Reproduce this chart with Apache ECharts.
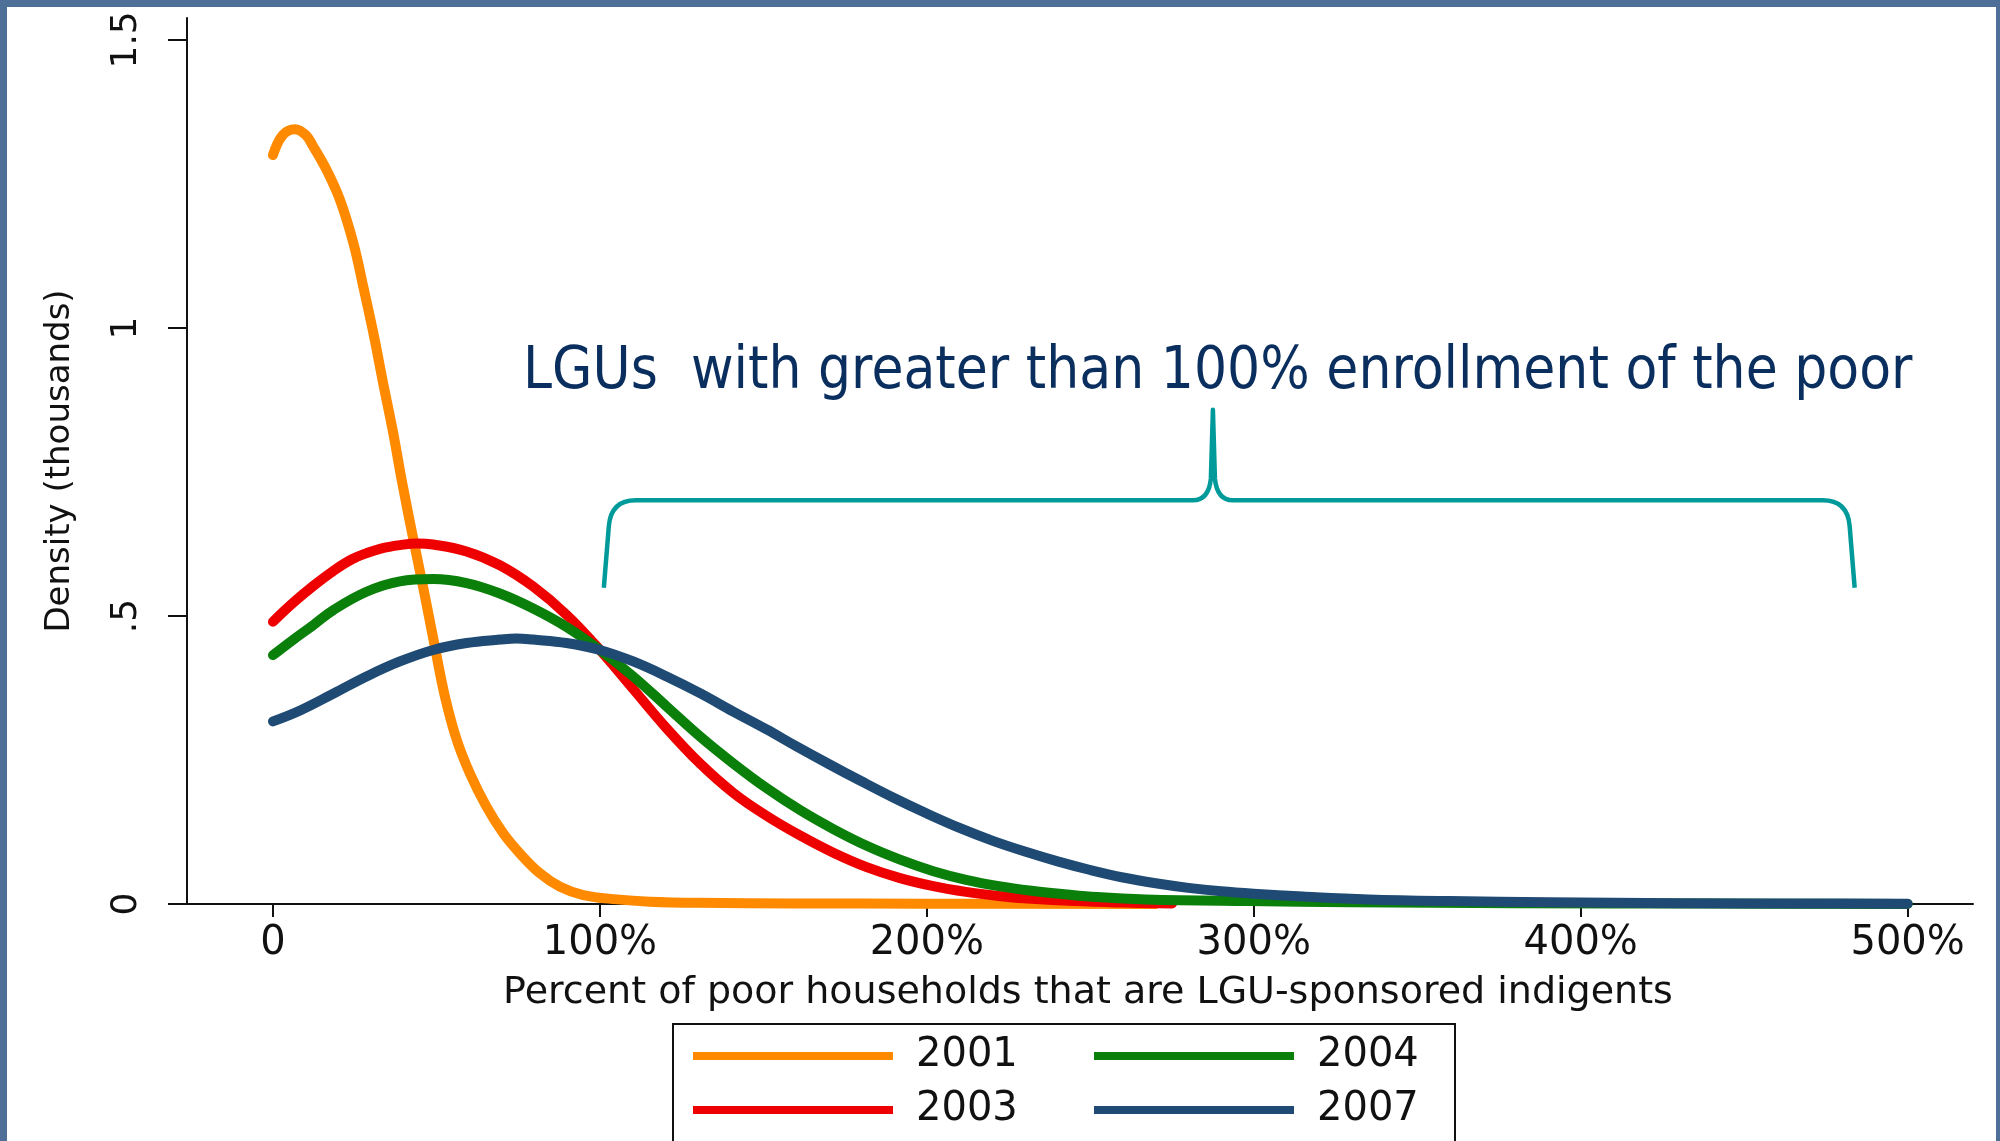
<!DOCTYPE html>
<html>
<head>
<meta charset="utf-8">
<script src="https://cdn.jsdelivr.net/npm/echarts@6/dist/echarts.min.js"></script>
<style>
  html, body { margin: 0; padding: 0; background: #4d6f98; }
  #main { width: 2000px; height: 1141px; }
</style>
</head>
<body>
<div id="main"></div>
<script>
// kernel density curves, x = percent of poor households, y = density (thousands)
var x2001 = [0, 3, 6.7, 10, 12.3, 16.4, 20.5, 24.6, 27.6, 30.7, 33.7, 36.8, 39.4, 43.4, 46.5, 49.5, 52.6, 56.2, 60.2, 65.3, 70.4, 75.5, 81.7, 87.8, 94.9, 105.1, 115.3, 130, 160, 200, 270];
var y2001 = [1.30, 1.335, 1.345, 1.335, 1.315, 1.274, 1.222, 1.147, 1.072, 0.991, 0.904, 0.817, 0.735, 0.62, 0.534, 0.447, 0.36, 0.285, 0.227, 0.169, 0.123, 0.088, 0.053, 0.03, 0.0156, 0.008, 0.004, 0.002, 0.001, 0.0005, 0];

var x2003 = [0, 6, 12.3, 18.4, 24, 28.6, 33, 38.8, 44, 49, 59.2, 69.4, 79.6, 89.8, 100, 110.2, 120.4, 130.6, 140.8, 151, 161.2, 171.4, 181.6, 191.8, 202, 212, 222, 232, 245, 260, 275];
var y2003 = [0.49, 0.522, 0.552, 0.578, 0.598, 0.609, 0.617, 0.623, 0.626, 0.624, 0.612, 0.588, 0.551, 0.502, 0.441, 0.373, 0.305, 0.244, 0.193, 0.153, 0.119, 0.089, 0.064, 0.045, 0.031, 0.021, 0.014, 0.009, 0.005, 0.0025, 0.001];

var x2004 = [0, 6, 12.3, 18.4, 28.6, 38.8, 49, 59.2, 69.4, 79.6, 89.8, 100, 110.2, 120.4, 130.6, 140.8, 151, 161.2, 171.4, 181.6, 191.8, 202, 212, 222, 232, 242, 252, 267, 298, 330, 380, 440, 500];
var y2004 = [0.432, 0.458, 0.484, 0.51, 0.542, 0.56, 0.564, 0.557, 0.539, 0.513, 0.481, 0.441, 0.395, 0.343, 0.291, 0.244, 0.201, 0.163, 0.130, 0.101, 0.077, 0.057, 0.042, 0.031, 0.023, 0.017, 0.012, 0.008, 0.005, 0.003, 0.0015, 0.0007, 0.0002];

var x2007 = [0, 8.3, 18.4, 28.6, 38.8, 49, 59.2, 69.4, 74.5, 79.6, 89.8, 100, 110.2, 120.4, 130.6, 140.8, 151, 160, 170, 180, 190, 200, 210, 220, 230, 240, 250, 260, 270, 280, 290, 300, 315, 335, 360, 390, 430, 470, 500];
var y2007 = [0.317, 0.336, 0.365, 0.395, 0.421, 0.441, 0.453, 0.459, 0.461, 0.459, 0.453, 0.441, 0.421, 0.395, 0.366, 0.334, 0.303, 0.274, 0.243, 0.213, 0.184, 0.157, 0.132, 0.110, 0.091, 0.074, 0.059, 0.046, 0.036, 0.028, 0.022, 0.0178, 0.013, 0.008, 0.005, 0.003, 0.0015, 0.0008, 0.0004];

var xTicks = [0, 100, 200, 300, 400, 500];
var yTicks = [0, 0.5, 1, 1.5];

// annotation: brace x = [left, middle, right], y = [ends, bar, peak]
var braceX = [101.2, 287.5, 483.8];
var braceY = [0.549, 0.701, 0.858];
var noteText = 'LGUs  with greater than 100% enrollment of the poor';
var noteX = [76.5, 501.5];
var noteY = 0.922;

var FONT = 'DejaVu Sans';
var colors = { '2001': '#ff8a00', '2003': '#ee0000', '2004': '#0a7f0a', '2007': '#1f4a73' };

function pairs(xs, ys) {
  return xs.map(function (x, i) { return [x, ys[i]]; });
}

function lineSeries(name, xs, ys) {
  return {
    name: name,
    type: 'line',
    data: pairs(xs, ys),
    symbol: 'none',
    smooth: 0.4,
    itemStyle: { color: colors[name] },
    lineStyle: { color: colors[name], width: 10, cap: 'round', join: 'round' }
  };
}

var measureCtx = document.createElement('canvas').getContext('2d');

var chart = echarts.init(document.getElementById('main'));
chart.setOption({
  backgroundColor: '#4d6f98',
  animation: false,
  graphic: {
    elements: [
      { type: 'rect', z: -100, shape: { x: 7, y: 7, width: 1989, height: 1140 }, style: { fill: '#ffffff' } },
      { type: 'rect', z: 1, shape: { x: 673, y: 1024, width: 782, height: 150 }, style: { fill: 'none', stroke: '#111', lineWidth: 2 } }
    ]
  },
  grid: { left: 187, right: 27, top: 18, bottom: 237 },
  xAxis: {
    type: 'value',
    min: -26.3,
    max: 520,
    axisLine: { onZero: false, lineStyle: { color: '#111', width: 2 } },
    axisTick: { customValues: xTicks, length: 13, lineStyle: { color: '#111', width: 2 } },
    axisLabel: {
      customValues: xTicks,
      margin: 20,
      fontFamily: FONT,
      fontSize: 40,
      color: '#111',
      formatter: function (v) { return v === 0 ? '0' : v + '%'; }
    },
    splitLine: { show: false },
    name: 'Percent of poor households that are LGU-sponsored indigents',
    nameLocation: 'middle',
    nameGap: 70,
    nameTextStyle: { fontFamily: FONT, fontSize: 38, color: '#111', padding: [0, 0, 0, 16] }
  },
  yAxis: {
    type: 'value',
    min: 0,
    max: 1.538,
    axisLine: { show: true, onZero: false, lineStyle: { color: '#111', width: 2 } },
    axisTick: { show: true, customValues: yTicks, length: 19, lineStyle: { color: '#111', width: 2 } },
    axisLabel: {
      customValues: yTicks,
      rotate: 90,
      margin: 42,
      fontFamily: FONT,
      fontSize: 36,
      color: '#111',
      formatter: function (v) { return String(v).replace(/^0\./, '.'); }
    },
    splitLine: { show: false },
    name: 'Density (thousands)',
    nameLocation: 'middle',
    nameGap: 110,
    nameTextStyle: { fontFamily: FONT, fontSize: 34, color: '#111' }
  },
  legend: [
    {
      data: ['2001', '2003'], orient: 'vertical', left: 693, top: 1036, padding: 0,
      itemWidth: 200, itemHeight: 8, itemGap: 14, icon: 'rect', selectedMode: false,
      textStyle: { fontFamily: FONT, fontSize: 40, lineHeight: 40, color: '#111', padding: [0, 0, 0, 18] }
    },
    {
      data: ['2004', '2007'], orient: 'vertical', left: 1094, top: 1036, padding: 0,
      itemWidth: 200, itemHeight: 8, itemGap: 14, icon: 'rect', selectedMode: false,
      textStyle: { fontFamily: FONT, fontSize: 40, lineHeight: 40, color: '#111', padding: [0, 0, 0, 18] }
    }
  ],
  series: [
    lineSeries('2001', x2001, y2001),
    lineSeries('2003', x2003, y2003),
    lineSeries('2004', x2004, y2004),
    lineSeries('2007', x2007, y2007),
    {
      type: 'custom',
      coordinateSystem: 'cartesian2d',
      silent: true,
      z: 5,
      data: [[0, 0]],
      renderItem: function (params, api) {
        var L = api.coord([braceX[0], braceY[0]]);
        var M = api.coord([braceX[1], braceY[2]]);
        var R = api.coord([braceX[2], braceY[0]]);
        var yh = api.coord([braceX[0], braceY[1]])[1];
        var r = 26;
        var d = [
          'M', L[0], L[1],
          'L', L[0] + 5, yh + r,
          'Q', L[0] + 7, yh, L[0] + 6 + r, yh,
          'L', M[0] - 20, yh,
          'Q', M[0] - 4, yh, M[0] - 2, yh - 22,
          'L', M[0], M[1],
          'L', M[0] + 2, yh - 22,
          'Q', M[0] + 4, yh, M[0] + 20, yh,
          'L', R[0] - 6 - r, yh,
          'Q', R[0] - 7, yh, R[0] - 5, yh + r,
          'L', R[0], R[1]
        ].join(' ');

        var n0 = api.coord([noteX[0], noteY]);
        var n1 = api.coord([noteX[1], noteY]);
        measureCtx.font = '58px "' + FONT + '"';
        var sx = (n1[0] - n0[0]) / measureCtx.measureText(noteText).width;

        return {
          type: 'group',
          children: [
            {
              type: 'path',
              shape: { pathData: d },
              style: { fill: 'none', stroke: '#009a9a', lineWidth: 4.5, lineJoin: 'round' }
            },
            {
              type: 'text',
              x: n0[0],
              y: n0[1],
              scaleX: sx,
              style: {
                text: noteText,
                fill: '#0a2f5f',
                fontFamily: FONT,
                fontSize: 58,
                align: 'left',
                verticalAlign: 'middle'
              }
            }
          ]
        };
      }
    }
  ]
});
</script>
</body>
</html>
